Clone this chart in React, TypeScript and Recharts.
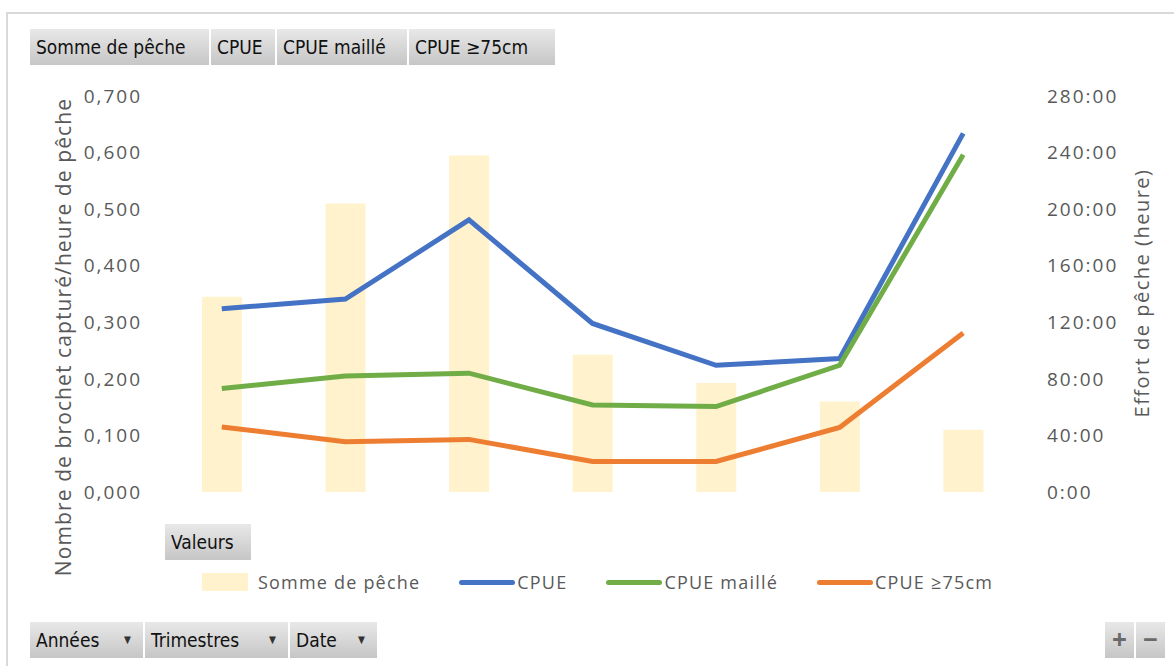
import React from 'react';
import {
  ComposedChart,
  Bar,
  Line,
  XAxis,
  YAxis,
} from 'recharts';

// Periods (no x labels shown in the pivot chart)
const periods = ['P1', 'P2', 'P3', 'P4', 'P5', 'P6', 'P7'];
// Somme de pêche, in hours
const effortHours = [138, 204, 238, 97, 77, 64, 44];
const cpue = [0.324, 0.341, 0.481, 0.298, 0.224, 0.236, 0.634];
const cpueMaille = [0.183, 0.205, 0.21, 0.154, 0.151, 0.224, 0.596];
const cpue75 = [0.115, 0.089, 0.093, 0.054, 0.054, 0.114, 0.281];

const leftTicks = [0, 0.1, 0.2, 0.3, 0.4, 0.5, 0.6, 0.7];
const rightTicks = [0, 40, 80, 120, 160, 200, 240, 280];

const data = periods.map((p, i) => ({
  name: p,
  effort: effortHours[i],
  cpue: cpue[i],
  maille: cpueMaille[i],
  cm75: cpue75[i],
}));

const legendItems = [
  { name: 'Somme de pêche', color: '#FFF2CC', kind: 'rect' },
  { name: 'CPUE', color: '#4472C4', kind: 'line' },
  { name: 'CPUE maillé', color: '#70AD47', kind: 'line' },
  { name: 'CPUE ≥75cm', color: '#ED7D31', kind: 'line' },
];

const FONT = '"Open Sans", "DejaVu Sans", sans-serif';
const BTN_FONT = '"Liberation Sans Narrow", "DejaVu Sans Condensed", "Liberation Sans", sans-serif';
const TEXT = '#595959';
const BTN_BG = 'linear-gradient(#e8e8e8, #c6c6c6)';

function PivotButton({ x, y, w, label, arrow }: { x: number; y: number; w: number; label: string; arrow?: boolean }) {
  return (
    <div
      style={{
        position: 'absolute',
        left: x,
        top: y,
        width: w,
        height: 36,
        background: BTN_BG,
        color: '#111',
        fontFamily: BTN_FONT,
        fontStretch: 'condensed',
        fontSize: 19,
        lineHeight: '36px',
        paddingLeft: 6,
        boxSizing: 'border-box',
        whiteSpace: 'nowrap',
      }}
    >
      {label}
      {arrow && (
        <span style={{ position: 'absolute', right: 12, top: 0, fontSize: 10, color: '#333' }}>▼</span>
      )}
    </div>
  );
}

function ChartLegend() {
  return (
    <div
      style={{
        position: 'absolute',
        left: 202,
        top: 570,
        display: 'flex',
        alignItems: 'center',
        fontFamily: FONT,
        fontSize: 18,
        letterSpacing: 1.2,
        color: TEXT,
        whiteSpace: 'nowrap',
      }}
    >
      {legendItems.map((it, i) => (
        <div key={i} style={{ display: 'flex', alignItems: 'center', marginRight: 39 }}>
          {it.kind === 'rect' ? (
            <span style={{ display: 'inline-block', width: 46, height: 18, background: it.color, marginRight: 10 }} />
          ) : (
            <span style={{ display: 'inline-block', width: 56, height: 5, borderRadius: 3, background: it.color, marginRight: 2 }} />
          )}
          <span>{it.name}</span>
        </div>
      ))}
    </div>
  );
}

const leftTitle = () => (
  <text
    x={71}
    y={337}
    transform="rotate(-90 71 337)"
    textAnchor="middle"
    fill={TEXT}
    fontFamily={FONT}
    fontSize={21}
    letterSpacing={1.1}
  >
    Nombre de brochet capturé/heure de pêche
  </text>
);

const rightTitle = () => (
  <text
    x={1149}
    y={293}
    transform="rotate(-90 1149 293)"
    textAnchor="middle"
    fill={TEXT}
    fontFamily={FONT}
    fontSize={20}
    letterSpacing={1.5}
  >
    Effort de pêche (heure)
  </text>
);

export default function App() {
  return (
    <div style={{ position: 'absolute', left: 0, top: 0, width: 1174, height: 666, background: '#fff', overflow: 'hidden' }}>
      <div
        style={{
          position: 'absolute',
          left: 6,
          top: 12,
          width: 1168,
          height: 654,
          borderTop: '2px solid #d9d9d9',
          borderLeft: '2px solid #d9d9d9',
          boxSizing: 'border-box',
        }}
      />
      <div style={{ position: 'absolute', left: 0, top: 0 }}>
        <ComposedChart
          width={1174}
          height={666}
          data={data}
          margin={{ top: 96, right: 29, bottom: 174, left: 100 }}
        >
          <XAxis dataKey="name" hide />
          <YAxis
            yAxisId="left"
            orientation="left"
            width={60}
            domain={[0, 0.7]}
            ticks={leftTicks}
            tickFormatter={(v: number) => v.toFixed(3).replace('.', ',')}
            axisLine={false}
            tickLine={false}
            tickSize={0}
            tickMargin={18}
            tick={{ fill: TEXT, fontSize: 19, fontFamily: FONT, letterSpacing: 2 }}
            label={{ content: leftTitle }}
          />
          <YAxis
            yAxisId="right"
            orientation="right"
            width={120}
            domain={[0, 280]}
            ticks={rightTicks}
            tickFormatter={(v: number) => `${v}:00`}
            axisLine={false}
            tickLine={false}
            tickSize={0}
            tickMargin={22}
            tick={{ fill: TEXT, fontSize: 19, fontFamily: FONT, letterSpacing: 2 }}
            label={{ content: rightTitle }}
          />
          <Bar yAxisId="right" dataKey="effort" name="Somme de pêche" fill="#FFF2CC" barSize={40} isAnimationActive={false} />
          <Line yAxisId="left" dataKey="cpue" name="CPUE" stroke="#4472C4" strokeWidth={5} dot={false} isAnimationActive={false} />
          <Line yAxisId="left" dataKey="maille" name="CPUE maillé" stroke="#70AD47" strokeWidth={5} dot={false} isAnimationActive={false} />
          <Line yAxisId="left" dataKey="cm75" name="CPUE ≥75cm" stroke="#ED7D31" strokeWidth={5} dot={false} isAnimationActive={false} />
        </ComposedChart>
      </div>

      <ChartLegend />

      <PivotButton x={30} y={29} w={179} label="Somme de pêche" />
      <PivotButton x={211} y={29} w={64} label="CPUE" />
      <PivotButton x={277} y={29} w={130} label="CPUE maillé" />
      <PivotButton x={409} y={29} w={146} label="CPUE ≥75cm" />

      <PivotButton x={165} y={524} w={86} label="Valeurs" />

      <PivotButton x={30} y={622} w={113} label="Années" arrow />
      <PivotButton x={145} y={622} w={143} label="Trimestres" arrow />
      <PivotButton x={290} y={622} w={87} label="Date" arrow />

      <div style={{ position: 'absolute', left: 1105, top: 622, width: 29, height: 36, background: BTN_BG, color: '#6a6a6a', fontFamily: FONT, fontSize: 26, fontWeight: 700, lineHeight: '34px', textAlign: 'center' }}>+</div>
      <div style={{ position: 'absolute', left: 1136, top: 622, width: 29, height: 36, background: BTN_BG, color: '#6a6a6a', fontFamily: FONT, fontSize: 26, fontWeight: 700, lineHeight: '34px', textAlign: 'center' }}>−</div>
    </div>
  );
}
